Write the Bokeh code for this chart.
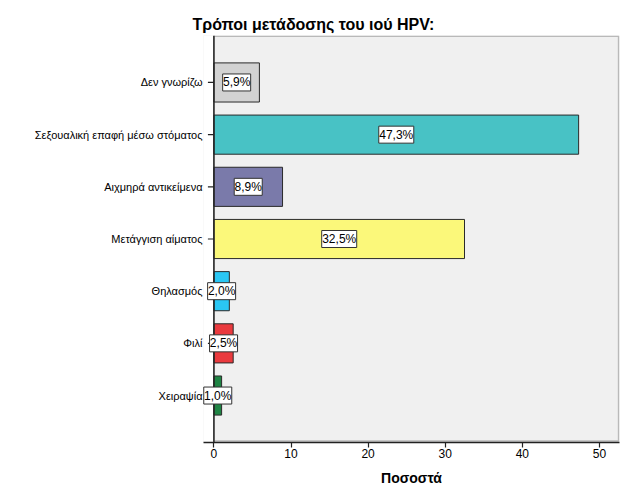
import math
from bokeh.plotting import figure
from bokeh.models import ColumnDataSource, Range1d, FixedTicker, Span, BoxAnnotation
from bokeh.core.properties import value
from bokeh.embed import file_html
from bokeh.resources import INLINE

categories = ["Δεν γνωρίζω", "Σεξουαλική επαφή μέσω στόματος", "Αιχμηρά αντικείμενα",
              "Μετάγγιση αίματος", "Θηλασμός", "Φιλί", "Χειραψία"]
percents = [5.9, 47.3, 8.9, 32.5, 2.0, 2.5, 1.0]
colors = ["#D2D2D2", "#48C2C5", "#7A7AAA", "#FBF87A", "#2AC7F4", "#EA3A3E", "#1F8444"]
x_ticks = [0, 10, 20, 30, 40, 50]

pos = list(range(1, len(categories) + 1))
labels = [f"{v:.1f}".replace(".", ",") + "%" for v in percents]
mid = [v / 2 for v in percents]
box_w = [7 * len(s) for s in labels]
zeros = [0] * len(pos)

src = ColumnDataSource(dict(y=pos, v=percents, c=colors, lab=labels, mid=mid, bw=box_w, z=zeros))

FONT = "Liberation Sans"
X0, X1 = -1.35, 52.6
Y0, Y1 = 7.9, 0.1
p = figure(width=626, height=501, output_backend="svg", toolbar_location=None,
           x_range=Range1d(X0, X1), y_range=Range1d(Y0, Y1),
           min_border_left=203, min_border_right=7, min_border_top=35, min_border_bottom=59,
           title="Τρόποι μετάδοσης του ιού HPV:")
p.background_fill_color = "#F0F0F0"
p.border_fill_color = "white"
p.outline_line_color = None
p.grid.visible = False

# white strip left of zero so the value boxes can overhang the axis
p.add_layout(BoxAnnotation(right=0, fill_color="white", fill_alpha=1.0, line_color=None,
                           level="underlay"))
# plot-area border (top and right), inset slightly so the edges stay visible
p.add_layout(BoxAnnotation(left=0, right=X1 - 0.12, top=Y1 + 0.012, bottom=Y0 - 0.03,
                           fill_alpha=0, line_color="#3A3A3A", line_width=1.5,
                           level="annotation"))

p.title.text_font = FONT
p.title.text_font_size = "16px"
p.title.text_font_style = "bold"
p.title.text_color = "black"
p.title.align = "left"
p.title.offset = -11
p.title.standoff = 6

p.hbar(y="y", right="v", left=0, height=0.75, fill_color="c", line_color="#2A2A2A",
       line_width=1, source=src)

# y-axis ticks pointing outward from the zero line
p.ray(x="z", y="y", length=6, angle=math.pi, length_units="screen",
      line_color="#222222", line_width=1.2, source=src)

p.add_layout(Span(location=0, dimension="height", line_color="#222222", line_width=1.5))

p.rect(x="mid", y="y", width="bw", height=17, width_units="screen", height_units="screen",
       fill_color="white", line_color="#333333", line_width=1, source=src, level="overlay")
p.text(x="mid", y="y", text="lab", text_align="center", text_baseline="middle",
       text_font=value(FONT), text_font_size="12px", text_color="black", source=src,
       level="overlay")

xa = p.xaxis[0]
xa.ticker = FixedTicker(ticks=x_ticks)
xa.axis_label = "Ποσοστά"
xa.axis_label_text_font = FONT
xa.axis_label_text_font_size = "14px"
xa.axis_label_text_font_style = "bold"
xa.axis_label_text_color = "black"
xa.axis_label_standoff = 9
xa.major_label_text_font = FONT
xa.major_label_text_font_size = "12px"
xa.major_label_text_color = "black"
xa.major_label_standoff = 1
xa.major_tick_out = 5
xa.major_tick_in = 0
xa.minor_tick_line_color = None
xa.axis_line_color = "#222222"
xa.axis_line_width = 1.5
xa.major_tick_line_color = "#222222"
xa.major_tick_line_width = 1.2

ya = p.yaxis[0]
ya.ticker = FixedTicker(ticks=pos)
ya.major_label_overrides = {i: c for i, c in zip(pos, categories)}
ya.major_label_text_font = FONT
ya.major_label_text_font_size = "11px"
ya.major_label_text_color = "black"
ya.major_tick_out = 0
ya.major_tick_in = 0
ya.major_tick_line_color = None
ya.major_label_standoff = 1
ya.minor_tick_line_color = None
ya.axis_line_color = None

open("out.html", "w").write(file_html(p, INLINE))
